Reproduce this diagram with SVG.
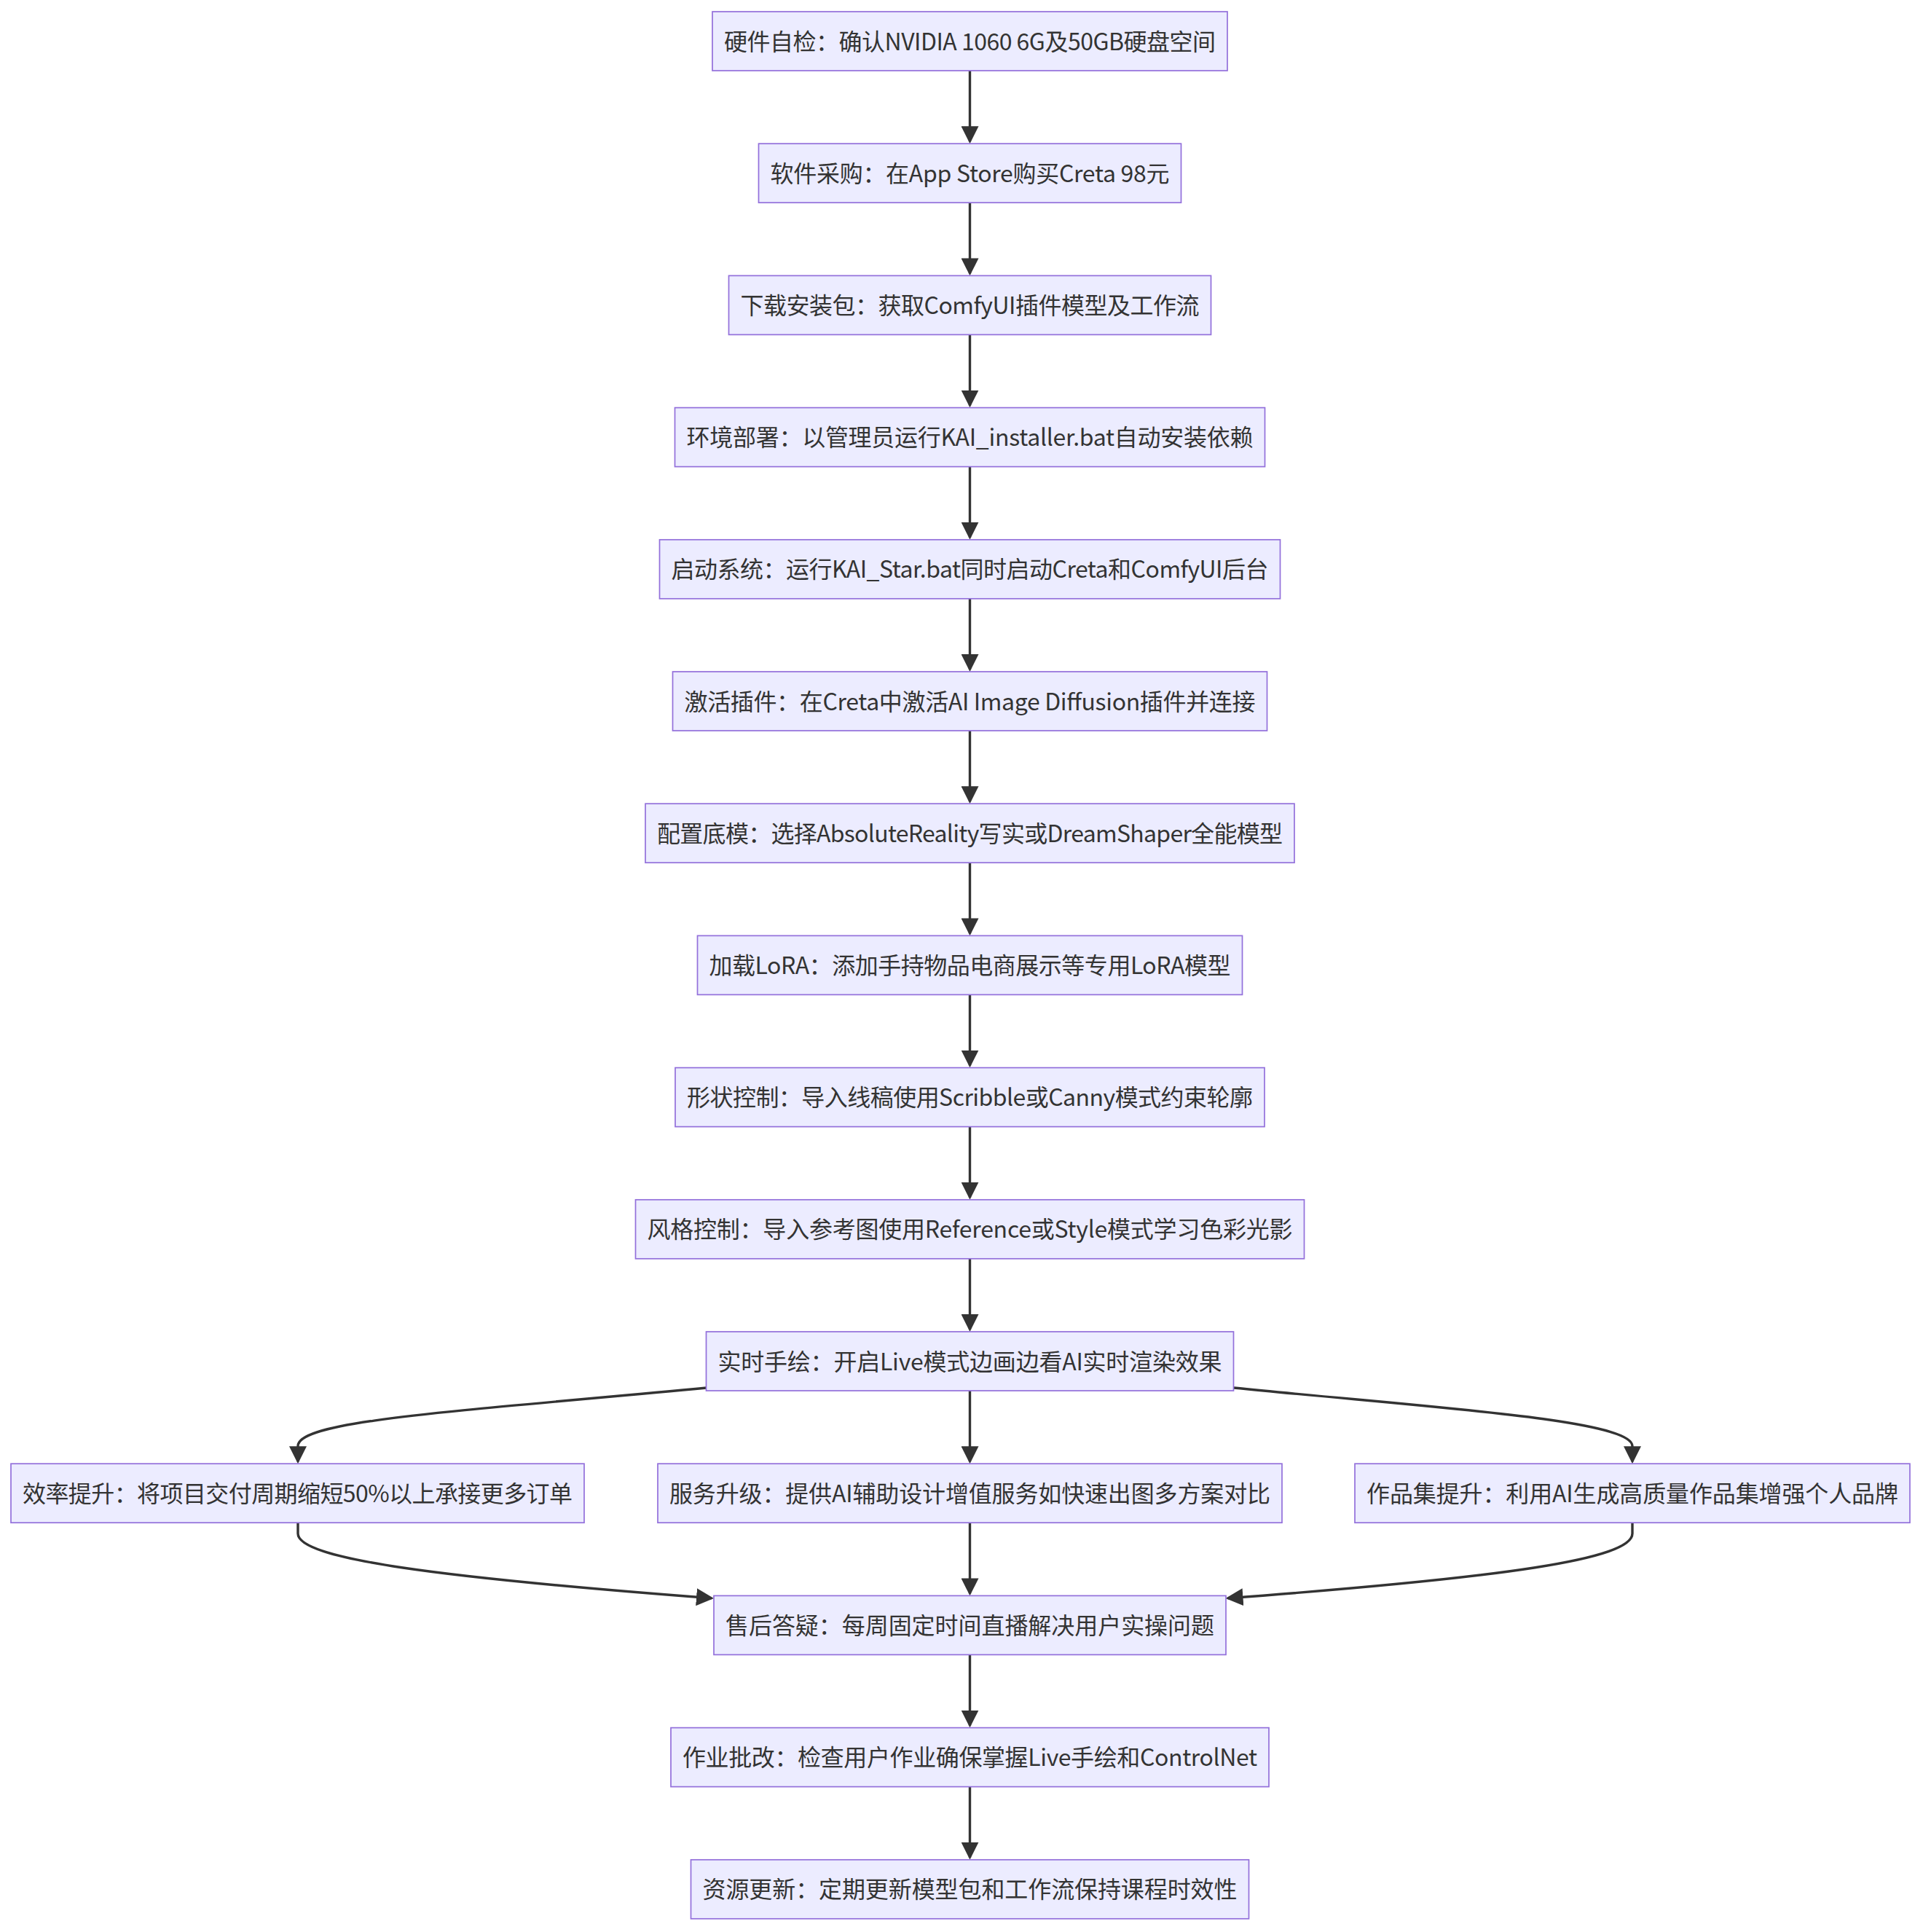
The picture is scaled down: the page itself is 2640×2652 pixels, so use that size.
<svg xmlns="http://www.w3.org/2000/svg" width="2640" height="2652" viewBox="0 0 2640 2652">
<style>
.node rect{fill:#ECECFF;stroke:#9370DB;stroke-width:1.7}
.node text{font-family:"Noto Sans CJK SC","Noto Sans",sans-serif;font-size:32px;fill:#333;text-anchor:middle}
.edge{fill:none;stroke:#333;stroke-width:3.4}
</style>
<defs>
<marker id="arrow" viewBox="0 0 24 24" markerUnits="userSpaceOnUse" markerWidth="24" markerHeight="24" refX="21" refY="12" orient="auto">
<path d="M0,0 L24,12 L0,24 z" fill="#333"/>
</marker>
</defs>
<rect width="2640" height="2652" fill="#fff"/>
<g id="connectors">
<path class="edge" marker-end="url(#arrow)" d="M1331.5,97 L1331.5,194.2"/>
<path class="edge" marker-end="url(#arrow)" d="M1331.5,278.2 L1331.5,375.4"/>
<path class="edge" marker-end="url(#arrow)" d="M1331.5,459.4 L1331.5,556.6"/>
<path class="edge" marker-end="url(#arrow)" d="M1331.5,640.6 L1331.5,737.8"/>
<path class="edge" marker-end="url(#arrow)" d="M1331.5,821.8 L1331.5,919"/>
<path class="edge" marker-end="url(#arrow)" d="M1331.5,1003 L1331.5,1100.2"/>
<path class="edge" marker-end="url(#arrow)" d="M1331.5,1184.2 L1331.5,1281.4"/>
<path class="edge" marker-end="url(#arrow)" d="M1331.5,1365.4 L1331.5,1462.6"/>
<path class="edge" marker-end="url(#arrow)" d="M1331.5,1546.6 L1331.5,1643.8"/>
<path class="edge" marker-end="url(#arrow)" d="M1331.5,1727.8 L1331.5,1825"/>
<path class="edge" marker-end="url(#arrow)" d="M1331.5,1909 L1331.5,2006.2"/>
<path class="edge" marker-end="url(#arrow)" d="M970,1905 C620,1938 409,1950 409,1985 L409,2006.2"/>
<path class="edge" marker-end="url(#arrow)" d="M1694,1905 C1960,1932 2241,1948 2241,1985 L2241,2006.2"/>
<path class="edge" marker-end="url(#arrow)" d="M409,2090.2 L409,2105 C409,2140 600,2165 977,2193.8"/>
<path class="edge" marker-end="url(#arrow)" d="M1331.5,2090.2 L1331.5,2187.4"/>
<path class="edge" marker-end="url(#arrow)" d="M2241,2090.2 L2241,2105 C2241,2140 2070,2165 1685.5,2193.8"/>
<path class="edge" marker-end="url(#arrow)" d="M1331.5,2271.4 L1331.5,2368.6"/>
<path class="edge" marker-end="url(#arrow)" d="M1331.5,2452.6 L1331.5,2549.8"/>
</g>
<g id="n1" class="node"><rect x="978" y="16" width="707" height="81"/><text x="1331.5" y="68.5" textLength="675" lengthAdjust="spacing">硬件自检：确认NVIDIA 1060 6G及50GB硬盘空间</text></g>
<g id="n2" class="node"><rect x="1041.5" y="197.2" width="580" height="81"/><text x="1331.5" y="249.7" textLength="548" lengthAdjust="spacing">软件采购：在App Store购买Creta 98元</text></g>
<g id="n3" class="node"><rect x="1000.5" y="378.4" width="662" height="81"/><text x="1331.5" y="430.9" textLength="630" lengthAdjust="spacing">下载安装包：获取ComfyUI插件模型及工作流</text></g>
<g id="n4" class="node"><rect x="926.5" y="559.6" width="810" height="81"/><text x="1331.5" y="612.1" textLength="778" lengthAdjust="spacing">环境部署：以管理员运行KAI_installer.bat自动安装依赖</text></g>
<g id="n5" class="node"><rect x="905.5" y="740.8" width="852" height="81"/><text x="1331.5" y="793.3" textLength="820" lengthAdjust="spacing">启动系统：运行KAI_Star.bat同时启动Creta和ComfyUI后台</text></g>
<g id="n6" class="node"><rect x="923.5" y="922" width="816" height="81"/><text x="1331.5" y="974.5" textLength="784" lengthAdjust="spacing">激活插件：在Creta中激活AI Image Diffusion插件并连接</text></g>
<g id="n7" class="node"><rect x="886" y="1103.2" width="891" height="81"/><text x="1331.5" y="1155.7" textLength="859" lengthAdjust="spacing">配置底模：选择AbsoluteReality写实或DreamShaper全能模型</text></g>
<g id="n8" class="node"><rect x="957.5" y="1284.4" width="748" height="81"/><text x="1331.5" y="1336.9" textLength="716" lengthAdjust="spacing">加载LoRA：添加手持物品电商展示等专用LoRA模型</text></g>
<g id="n9" class="node"><rect x="927" y="1465.6" width="809" height="81"/><text x="1331.5" y="1518.1" textLength="777" lengthAdjust="spacing">形状控制：导入线稿使用Scribble或Canny模式约束轮廓</text></g>
<g id="n10" class="node"><rect x="872.5" y="1646.8" width="918" height="81"/><text x="1331.5" y="1699.3" textLength="886" lengthAdjust="spacing">风格控制：导入参考图使用Reference或Style模式学习色彩光影</text></g>
<g id="n11" class="node"><rect x="969.5" y="1828" width="724" height="81"/><text x="1331.5" y="1880.5" textLength="692" lengthAdjust="spacing">实时手绘：开启Live模式边画边看AI实时渲染效果</text></g>
<g id="n12" class="node"><rect x="15" y="2009.2" width="787" height="81"/><text x="408.5" y="2061.7" textLength="755" lengthAdjust="spacing">效率提升：将项目交付周期缩短50%以上承接更多订单</text></g>
<g id="n13" class="node"><rect x="903" y="2009.2" width="857" height="81"/><text x="1331.5" y="2061.7" textLength="825" lengthAdjust="spacing">服务升级：提供AI辅助设计增值服务如快速出图多方案对比</text></g>
<g id="n14" class="node"><rect x="1860" y="2009.2" width="762" height="81"/><text x="2241" y="2061.7" textLength="730" lengthAdjust="spacing">作品集提升：利用AI生成高质量作品集增强个人品牌</text></g>
<g id="n15" class="node"><rect x="980" y="2190.4" width="703" height="81"/><text x="1331.5" y="2242.9" textLength="671" lengthAdjust="spacing">售后答疑：每周固定时间直播解决用户实操问题</text></g>
<g id="n16" class="node"><rect x="921" y="2371.6" width="821" height="81"/><text x="1331.5" y="2424.1" textLength="789" lengthAdjust="spacing">作业批改：检查用户作业确保掌握Live手绘和ControlNet</text></g>
<g id="n17" class="node"><rect x="948.5" y="2552.8" width="766" height="81"/><text x="1331.5" y="2605.3" textLength="734" lengthAdjust="spacing">资源更新：定期更新模型包和工作流保持课程时效性</text></g>
</svg>
